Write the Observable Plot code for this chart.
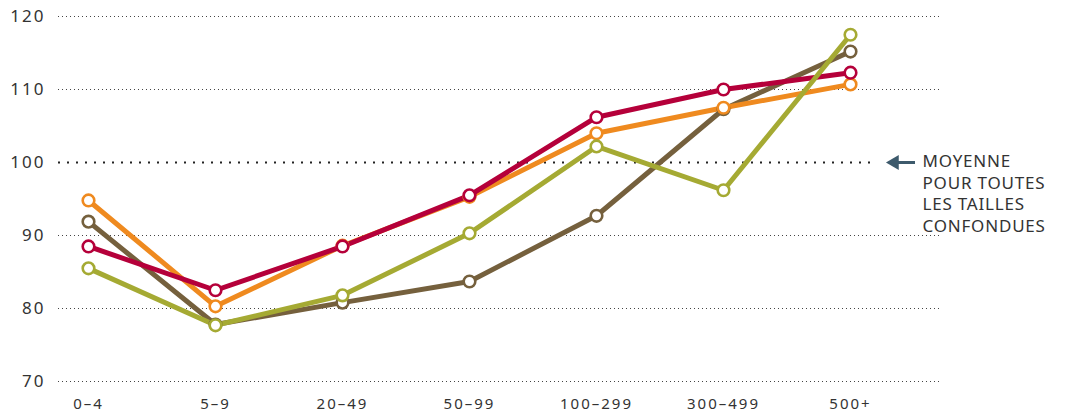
<!DOCTYPE html>
<html>
<head>
<meta charset="utf-8">
<script src="https://cdn.jsdelivr.net/npm/d3@7"></script>
<script src="https://cdn.jsdelivr.net/npm/@observablehq/plot@0.6"></script>
<style>
  html, body { margin: 0; padding: 0; background: #fff; }
  svg { display: block; }
  g[aria-label="y-axis tick label"] { font-size: 17px !important; letter-spacing: 2px; }
  g[aria-label="x-axis tick label"] { font-size: 15px !important; letter-spacing: 2px; }
  g[aria-label="text"] { letter-spacing: 0.8px; }
</style>
</head>
<body>
<div id="chart"></div>
<script>
const categories = ["0–4", "5–9", "20–49", "50–99", "100–299", "300–499", "500+"];
const seriesNames = ["s-brun", "s-orange", "s-rouge", "s-vert"];
const brownValues  = [91.9, 77.8, 80.8, 83.7, 92.7, 107.3, 115.2];
const orangeValues = [94.8, 80.3, 88.6, 95.3, 104.0, 107.5, 110.7];
const redValues    = [88.5, 82.5, 88.5, 95.5, 106.2, 110.0, 112.3];
const greenValues  = [85.5, 77.7, 81.8, 90.3, 102.2, 96.2, 117.5];
const seriesColors = ["#75603d", "#ef8a1f", "#b5003a", "#a5aa33"];
const yTicks = [70, 80, 90, 100, 110, 120];
const averageValue = 100;
const annotation = "MOYENNE\nPOUR TOUTES\nLES TAILLES\nCONFONDUES";

const allValues = [brownValues, orangeValues, redValues, greenValues];
const data = [];
seriesNames.forEach((s, i) => {
  categories.forEach((c, j) => data.push({series: s, cat: c, value: allValues[i][j]}));
});

const chart = Plot.plot({
  width: 1065,
  height: 419,
  marginLeft: 58,
  marginRight: 125,
  marginTop: 16,
  marginBottom: 38,
  style: {fontFamily: "'Noto Sans', 'Open Sans', sans-serif", color: "#333", background: "#fff"},
  x: {type: "point", domain: categories, range: [87, 850], padding: 0, label: null},
  y: {domain: [70, 120], label: null, ticks: yTicks},
  color: {domain: seriesNames, range: seriesColors},
  marks: [
    Plot.ruleY(yTicks.filter(t => t !== averageValue), {stroke: "#444", strokeWidth: 1, strokeDasharray: "1,3"}),
    Plot.ruleY([averageValue], {stroke: "#222", strokeWidth: 2, strokeDasharray: "2,7", insetRight: 68}),
    Plot.axisY({ticks: yTicks, tickSize: 0, tickPadding: 13, fill: "#333"}),
    Plot.axisX({tickSize: 0, tickPadding: 17, fill: "#333"}),
    Plot.line(data, {x: "cat", y: "value", z: "series", stroke: "series", strokeWidth: 5, strokeLinejoin: "round"}),
    Plot.dot(data, {x: "cat", y: "value", stroke: "series", fill: "#fff", r: 5.8, strokeWidth: 2.6}),
    Plot.ruleY([averageValue], {stroke: "#3d5a6c", strokeWidth: 3, insetLeft: 838, insetRight: 25}),
    Plot.dot([averageValue], {x: () => categories[categories.length - 1], y: d => d, symbol: "triangle", rotate: -90, r: 5.5, fill: "#3d5a6c", stroke: "none", dx: 44}),
    Plot.text([annotation], {frameAnchor: "right", y: () => averageValue, dx: -18, dy: -11, textAnchor: "start", lineAnchor: "top", fontSize: 17, lineHeight: 1.28, fill: "#333"})
  ]
});
document.getElementById("chart").appendChild(chart);
</script>
</body>
</html>
